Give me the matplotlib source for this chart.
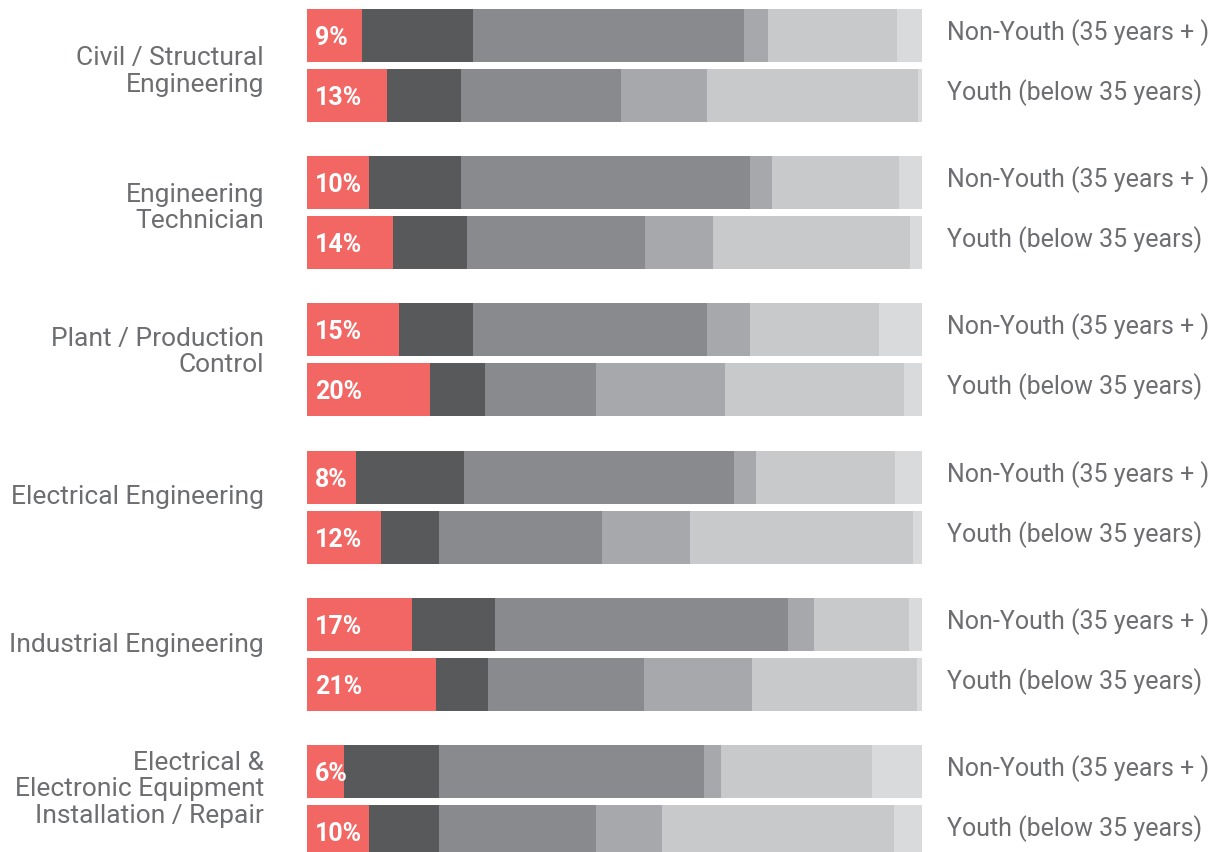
import matplotlib.pyplot as plt
import numpy as np

# categories, top to bottom
categories = ['Civil / Structural\nEngineering',
              'Engineering\nTechnician',
              'Plant / Production\nControl',
              'Electrical Engineering',
              'Industrial Engineering',
              'Electrical &\nElectronic Equipment\nInstallation / Repair']
groups = ['Non-Youth (35 years + )', 'Youth (below 35 years)']

# share of each segment in %, one list per segment, rows = category x group
seg_red = [9, 13, 10, 14, 15, 20, 8, 12, 17, 21, 6, 10]
seg_dark = [18, 12, 15, 12, 12, 9, 17.5, 9.4, 13.5, 8.5, 15.4, 11.5]
seg_mid = [44, 26, 47, 29, 38, 18, 44, 26.6, 47.7, 25.3, 43.2, 25.5]
seg_midlight = [4, 14, 3.6, 11, 7, 21, 3.5, 14.2, 4.2, 17.6, 2.7, 10.7]
seg_light = [21, 34.3, 20.7, 32, 21, 29, 22.6, 36.4, 15.5, 26.8, 24.6, 37.7]
seg_pale = [4, 0.7, 3.7, 2, 7, 3, 4.4, 1.4, 2.1, 0.8, 8.1, 4.6]

segments = [seg_red, seg_dark, seg_mid, seg_midlight, seg_light, seg_pale]
colors = ['#F26764', '#58595B', '#898A8D', '#A7A8AB', '#C8C9CB', '#D9DADC']
text_col = '#6D6E71'

W, H = 1217, 853
fig = plt.figure(figsize=(W / 100, H / 100), dpi=100)
ax = fig.add_axes([307 / W, 0, 615 / W, 1])
ax.set_xlim(0, 100)
ax.set_ylim(H, 0)
ax.axis('off')

# layout in pixel units
first_y = 36.5
group_pitch = 147.2
pair_gap = 60
bar_h = 53
# small vertical nudges of the category labels (px)
label_nudge = [5, -6, -9, -11, -10, -13]

ys = []
for g in range(len(categories)):
    for k in range(2):
        ys.append(first_y + g * group_pitch + k * pair_gap)
ys = np.array(ys)

left = np.zeros(len(ys))
for vals, c in zip(segments, colors):
    vals = np.array(vals, dtype=float)
    ax.barh(ys, vals, left=left, height=bar_h, color=c, linewidth=0)
    left += vals

for y, v in zip(ys, seg_red):
    ax.text(1.3, y + 1.5, f'{v}%', color='white', fontsize=18, fontweight='bold',
            family='Roboto', va='center', ha='left')

tr = ax.get_yaxis_transform()
for i, y in enumerate(ys):
    ax.text(1.04, y - 4, groups[i % 2], transform=tr, color=text_col,
            fontsize=18, family='Roboto', va='center', ha='left')

for g, name in enumerate(categories):
    yc = first_y + g * group_pitch + pair_gap / 2 + label_nudge[g]
    ax.text(-0.07, yc, name, transform=tr, color=text_col, fontsize=19,
            family='Roboto', va='center', ha='right', linespacing=1.12)

fig.savefig('out.png', dpi=100)
